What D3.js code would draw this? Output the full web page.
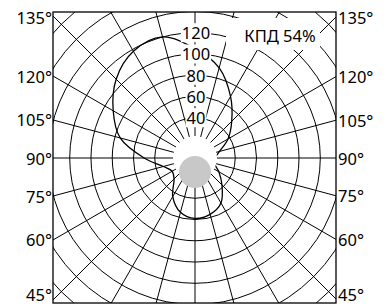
<!DOCTYPE html>
<html><head><meta charset="utf-8">
<script src="https://cdn.jsdelivr.net/npm/d3@7"></script>
<style>
html,body{margin:0;padding:0;background:#fff;}
svg{display:block;}
text{font-family:"Noto Sans",sans-serif;}
</style></head>
<body>
<script>
// ---- data ----
// gamma angle from nadir; 0..180 = right half, 180..360 = left half
const gammaAngles = [0,15,30,45,60,75,90,105,120,135,150,165,180,195,210,225,240,255,270,285,300,315,330,345];
const intensity   = [59,57,51,38,28,21,21,26,38,51,69,90,105,120,118,107,91,75,50,33,27,30,44,55];
const ringValues = [20,40,60,80,100,120,140,160,180,200,220];
const ringLabels = [40,60,80,100,120];
const sideLabelAngles = [45,60,75,90,105,120,135];
const sideLabelTexts = ["45°","60°","75°","90°","105°","120°","135°"];
const efficiencyLabel = "КПД 54%";

// ---- layout ----
const W = 388, H = 306;
const box = {x0:53, y0:12, x1:336, y1:303};
const cx = 195, cy = 158;
const r = d3.scaleLinear().domain([20,120]).range([19,125.3]);
const fs = 16.5;

const svg = d3.select("body").append("svg").attr("width",W).attr("height",H);
svg.append("clipPath").attr("id","clip").append("rect")
  .attr("x",box.x0).attr("y",box.y0).attr("width",box.x1-box.x0).attr("height",box.y1-box.y0);

const g = svg.append("g").attr("clip-path","url(#clip)");
const toRad = d => d*Math.PI/180;
const pt = (deg, rad) => [cx + rad*Math.sin(toRad(deg)), cy + rad*Math.cos(toRad(deg))];

// rings
g.selectAll("circle.ring").data(ringValues).enter().append("circle")
  .attr("class","ring").attr("cx",cx).attr("cy",cy).attr("r",d=>r(d))
  .attr("fill","none").attr("stroke","#000").attr("stroke-width",1);

// radial lines
const spokes = d3.range(0,360,15);
g.selectAll("line.spoke").data(spokes).enter().append("line")
  .attr("x1",cx).attr("y1",cy)
  .attr("x2",d=>pt(d,320)[0]).attr("y2",d=>pt(d,320)[1])
  .attr("stroke","#000").attr("stroke-width",1);

// intensity curve
const curveData = gammaAngles.map((a,i)=>({a, v:intensity[i]}));
const line = d3.lineRadial()
  .angle(d=>Math.PI - toRad(d.a))
  .radius(d=>r(d.v))
  .curve(d3.curveCatmullRomClosed.alpha(0.5));
g.append("path").datum(curveData)
  .attr("transform",`translate(${cx},${cy})`)
  .attr("d",line).attr("fill","none").attr("stroke","#000").attr("stroke-width",1.3);

// center discs
g.append("circle").attr("cx",cx).attr("cy",cy).attr("r",22).attr("fill","#fff");
g.append("circle").attr("cx",cx).attr("cy",cy+14).attr("r",16).attr("fill","#c8c8c8");

// efficiency label box
g.append("rect").attr("x",226).attr("y",18).attr("width",94).attr("height",32).attr("fill","#fff");
svg.append("text").attr("x",280).attr("y",35).attr("text-anchor","middle")
  .attr("dominant-baseline","central").attr("font-size",fs).text(efficiencyLabel);

// ring labels on vertical axis
ringLabels.forEach(v=>{
  const y = cy - r(v);
  const t = svg.append("text").attr("x",cx+1).attr("y",y).attr("text-anchor","middle")
    .attr("dominant-baseline","central").attr("font-size",fs).text(v);
  const bb = t.node().getBBox();
  svg.insert("rect","text:last-of-type").attr("x",bb.x-1).attr("y",bb.y+2).attr("width",bb.width+2).attr("height",bb.height-4).attr("fill","#fff");
});

// frame
svg.append("rect").attr("x",box.x0).attr("y",box.y0).attr("width",box.x1-box.x0).attr("height",box.y1-box.y0)
  .attr("fill","none").attr("stroke","#000").attr("stroke-width",1.3);

// side labels
sideLabelAngles.forEach((a,i)=>{
  const phi = toRad(a);
  const yl = cy + (cx-box.x0)/Math.tan(phi);
  const yr = cy + (box.x1-cx)/Math.tan(phi);
  const clampY = y => Math.max(box.y0+5, Math.min(box.y1-9, y));
  svg.append("text").attr("x",box.x0-1).attr("y",clampY(yl))
    .attr("text-anchor","end").attr("dominant-baseline","central").attr("font-size",fs).text(sideLabelTexts[i]);
  svg.append("text").attr("x",box.x1+2).attr("y",clampY(yr))
    .attr("text-anchor","start").attr("dominant-baseline","central").attr("font-size",fs).text(sideLabelTexts[i]);
});
</script>
</body></html>
